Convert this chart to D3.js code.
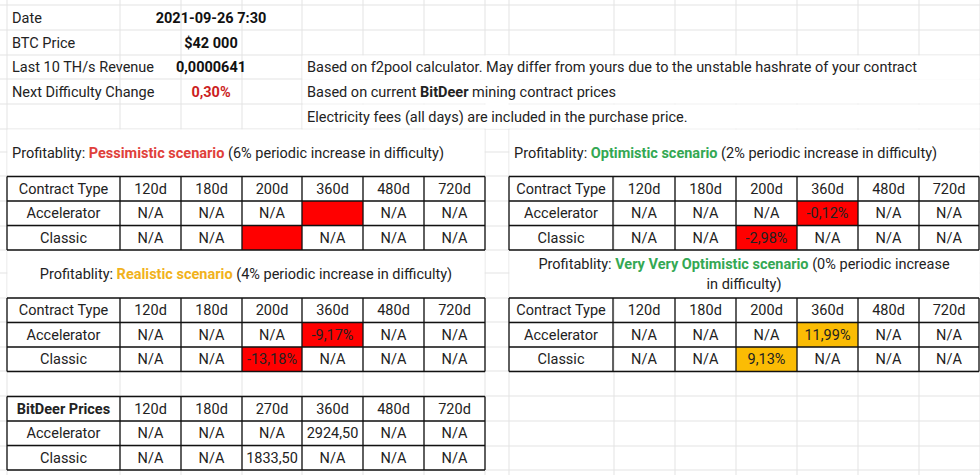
<!DOCTYPE html><html><head><meta charset="utf-8">
<script src="https://cdn.jsdelivr.net/npm/d3@7"></script>
<style>body{margin:0;background:#fff}svg{display:block}text{font-family:Roboto,Arial,sans-serif;font-size:14.5px;fill:#222}</style></head><body>
<script>
const infoLabels=["Date","BTC Price","Last 10 TH/s Revenue","Next Difficulty Change"];
const infoValues=["2021-09-26 7:30","$42 000","0,0000641","0,30%"];
const notes=[["Based on f2pool calculator. May differ from yours due to the unstable hashrate of your contract"],["Based on current ","BitDeer"," mining contract prices"],["Electricity fees (all days) are included in the purchase price."]];
const periods=["120d","180d","200d","360d","480d","720d"];
const pricePeriods=["120d","180d","270d","360d","480d","720d"];
const rowTypes=["Accelerator","Classic"];
const pessimistic=[["N/A","N/A","N/A","","N/A","N/A"],["N/A","N/A","","N/A","N/A","N/A"]];
const optimistic=[["N/A","N/A","N/A","-0,12%","N/A","N/A"],["N/A","N/A","-2,98%","N/A","N/A","N/A"]];
const realistic=[["N/A","N/A","N/A","-9,17%","N/A","N/A"],["N/A","N/A","-13,18%","N/A","N/A","N/A"]];
const veryOptimistic=[["N/A","N/A","N/A","11,99%","N/A","N/A"],["N/A","N/A","9,13%","N/A","N/A","N/A"]];
const prices=[["N/A","N/A","N/A","2924,50","N/A","N/A"],["N/A","N/A","1833,50","N/A","N/A","N/A"]];

const W=980,H=475;
const svg=d3.select("body").append("svg").attr("width",W).attr("height",H);
const colsL=[7,120,181,242,302,363,424,485];
const colsR=[509,614,675,736,797,858,919,980];
const allCols=[...colsL,...colsR.slice(0)];
const rowsY=[5,30,55,79,104,129,152,176,201,226,250,273,298,322,347,371,396,421,446,470];
const grid="#e3e3e3";
allCols.forEach(x=>svg.append("line").attr("x1",x).attr("x2",x).attr("y1",0).attr("y2",H).attr("stroke",grid));
rowsY.forEach(y=>svg.append("line").attr("x1",0).attr("x2",W).attr("y1",y).attr("y2",y).attr("stroke",grid));
// merged / overflow regions
const white=(x,y,w,h)=>svg.append("rect").attr("x",x).attr("y",y).attr("width",w).attr("height",h).attr("fill","#fff");
white(7.5,129.5,477,46);white(509.5,129.5,470,46);white(7.5,250.5,477,47);white(509.5,250.5,470,47);
white(302.5,55.5,677,24);white(302.5,79.5,677,24);white(302.5,104.5,677,24);
white(485.5,55.5,23,73);
// info rows
infoLabels.forEach((l,i)=>{
  const cy=(rowsY[i]+rowsY[i+1])/2;
  svg.append("text").attr("x",12).attr("y",cy+5).text(l);
  svg.append("text").attr("x",211).attr("y",cy+5).attr("text-anchor","middle").attr("font-weight","bold")
   .style("fill",i==3?"#cc1f1f":"#111").text(infoValues[i]);
});
notes.forEach((n,i)=>{
  const cy=(rowsY[i+2]+rowsY[i+3])/2;
  const t=svg.append("text").attr("x",307).attr("y",cy+5);
  n.forEach((s,j)=>t.append("tspan").attr("font-weight",j==1?"bold":null).text(s));
});
function title(x,y,parts,anchor){
  const t=svg.append("text").attr("x",x).attr("y",y).attr("text-anchor",anchor||"start");
  parts.forEach(p=>t.append("tspan").attr("font-weight",p[1]?"bold":null).style("fill",p[1]||"#222").text(p[0]));
}
title(12,158,[["Profitablity: "],["Pessimistic scenario","#e0403a"],[" (6% periodic increase in difficulty)"]]);
title(514,158,[["Profitablity: "],["Optimistic scenario","#34a853"],[" (2% periodic increase in difficulty)"]]);
title(246,279,[["Profitablity: "],["Realistic scenario","#f1b21c"],[" (4% periodic increase in difficulty)"]],"middle");
title(744,269,[["Profitablity: "],["Very Very Optimistic scenario","#34a853"],[" (0% periodic increase"]],"middle");
title(744,289,[["in difficulty)"]],"middle");

function colorFor(v){ if(v==="")return "#ff0000"; if(v.startsWith("-"))return "#ff0000"; if(v.endsWith("%"))return "#fbbc04"; return null;}
function table(cols,y0,header,hdrBold,data){
  const ys=[y0,y0+24.5,y0+49,y0+73.5];
  const rows=[[header,...hdrBold.periods],...data.map((r,i)=>[rowTypes[i],...r])];
  rows.forEach((r,ri)=>r.forEach((v,ci)=>{
    const x0=cols[ci],x1=cols[ci+1],ya=ys[ri],yb=ys[ri+1];
    const c=ri>0&&ci>0?colorFor(v):null;
    if(c)svg.append("rect").attr("x",x0).attr("y",ya).attr("width",x1-x0).attr("height",yb-ya).attr("fill",c);
    svg.append("text").attr("x",(x0+x1)/2).attr("y",(ya+yb)/2+5).attr("text-anchor","middle")
      .attr("font-weight",ri==0&&ci==0&&hdrBold.bold?"bold":null).text(v);
  }));
  cols.forEach(x=>svg.append("line").attr("x1",x).attr("x2",x).attr("y1",ys[0]).attr("y2",ys[3]).attr("stroke","#111").attr("stroke-width",1.3));
  ys.forEach(y=>svg.append("line").attr("x1",cols[0]).attr("x2",cols[cols.length-1]).attr("y1",y).attr("y2",y).attr("stroke","#111").attr("stroke-width",1.3));
}
const cR=[509,613,675,736,797,858,919,979];
const cL=[7,120,181,242,302,363,424,485];
table(cL,176.5,"Contract Type",{periods},pessimistic);
table(cR,176.5,"Contract Type",{periods},optimistic);
table(cL,298,"Contract Type",{periods},realistic);
table(cR,298,"Contract Type",{periods},veryOptimistic);
table(cL,396.5,"BitDeer Prices",{periods:pricePeriods,bold:true},prices);
</script></body></html>
